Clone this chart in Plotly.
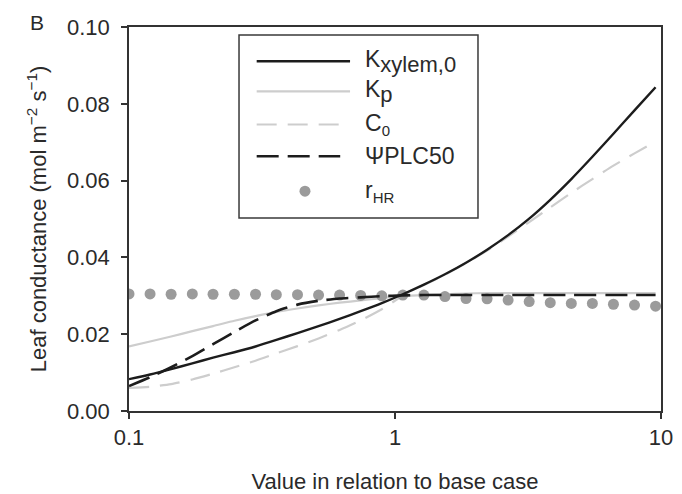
import plotly.graph_objects as go

# Relative parameter value (each step is a factor of 1.2 from 0.1)
rel_value = [0.1, 0.12, 0.144, 0.173, 0.207, 0.249, 0.299, 0.358, 0.43, 0.516,
             0.619, 0.743, 0.892, 1.07, 1.284, 1.541, 1.849, 2.219, 2.662, 3.195,
             3.834, 4.601, 5.521, 6.625, 7.95, 9.54]

# Leaf conductance (mol m-2 s-1) for each varied parameter
k_xylem0 = [0.0083, 0.0095, 0.0109, 0.0124, 0.0139, 0.0153, 0.0168, 0.0185, 0.0203, 0.0221,
            0.0240, 0.0260, 0.0281, 0.0304, 0.0329, 0.0356, 0.0386, 0.0420, 0.0458, 0.0501,
            0.0550, 0.0604, 0.0662, 0.0722, 0.0783, 0.0843]
k_p = [0.0168, 0.0181, 0.0194, 0.0208, 0.0221, 0.0235, 0.0247, 0.0258, 0.0267, 0.0275,
       0.0282, 0.0288, 0.0294, 0.0299, 0.0302, 0.0304, 0.0306, 0.0307, 0.0307, 0.0307,
       0.0307, 0.0307, 0.0307, 0.0307, 0.0307, 0.0307]
c_0 = [0.0060, 0.0063, 0.0070, 0.0082, 0.0097, 0.0114, 0.0131, 0.0150, 0.0169, 0.0189,
       0.0211, 0.0236, 0.0265, 0.0300, 0.0328, 0.0355, 0.0385, 0.0418, 0.0454, 0.0492,
       0.0530, 0.0568, 0.0604, 0.0639, 0.0671, 0.0702]
psi_plc50 = [0.0065, 0.0088, 0.0114, 0.0143, 0.0174, 0.0206, 0.0236, 0.0260, 0.0277, 0.0287,
             0.0293, 0.0296, 0.0299, 0.0301, 0.0302, 0.0302, 0.0302, 0.0302, 0.0302, 0.0302,
             0.0302, 0.0302, 0.0302, 0.0302, 0.0302, 0.0302]
r_hr = [0.0305, 0.0305, 0.0304, 0.0305, 0.0304, 0.0304, 0.0304, 0.0303, 0.0303, 0.0302,
        0.0302, 0.0301, 0.0300, 0.0302, 0.0302, 0.0298, 0.0293, 0.0292, 0.0289, 0.0285,
        0.0282, 0.0280, 0.0280, 0.0278, 0.0276, 0.0273]

y_ticks = [0.0, 0.02, 0.04, 0.06, 0.08, 0.10]
x_ticks = [0.1, 1, 10]
x_tick_text = ["0.1", "1", "10"]

FONT = "Liberation Sans, Arial, sans-serif"
INK = "#2a2a2a"
BLACK = "#1c1c1c"
LIGHT = "#cdcdcd"
DOT = "#9b9b9b"
FS = 22
LEG_FS = 23

fig = go.Figure()

smooth = dict(shape="spline", smoothing=0.6)
fig.add_trace(go.Scatter(x=rel_value, y=k_p, mode="lines",
                         line=dict(color=LIGHT, width=2.2, **smooth)))
fig.add_trace(go.Scatter(x=rel_value, y=c_0, mode="lines",
                         line=dict(color=LIGHT, width=2.2, dash="20px,11px", **smooth)))
fig.add_trace(go.Scatter(x=rel_value, y=r_hr, mode="markers",
                         marker=dict(color=DOT, size=11, line=dict(width=0))))
fig.add_trace(go.Scatter(x=rel_value, y=psi_plc50, mode="lines",
                         line=dict(color=BLACK, width=2.6, dash="22px,9px", **smooth)))
fig.add_trace(go.Scatter(x=rel_value, y=k_xylem0, mode="lines",
                         line=dict(color=BLACK, width=2.4, **smooth)))

# Hand-built legend box (paper coordinates)
box = dict(x0=0.2068, x1=0.656, y0=0.5026, y1=0.979)
fig.add_shape(type="rect", xref="paper", yref="paper", **box,
              line=dict(color="#3a3a3a", width=1.5), fillcolor="white", layer="above")


def sub(txt, size):
    return "<sub><span style='font-size:%dpx'>%s</span></sub>" % (size, txt)


rows = [0.9108, 0.8326, 0.7461, 0.6636, 0.5724]
sample_x0, sample_x1 = 0.2400, 0.4155
legend_items = [
    ("K" + sub("xylem,0", 22), dict(color=BLACK, width=2.4, dash="solid")),
    ("K" + sub("p", 22), dict(color=LIGHT, width=2.2, dash="solid")),
    ("C" + sub("0", 15), dict(color=LIGHT, width=2.2, dash="20px,11px")),
    ("\u03a8PLC50", dict(color=BLACK, width=2.6, dash="22px,9px")),
    ("r" + sub("HR", 15), None),
]
for (label, style), ry in zip(legend_items, rows):
    if style is not None:
        x1 = sample_x1 if style["dash"] == "solid" else 0.397
        fig.add_shape(type="line", xref="paper", yref="paper",
                      x0=sample_x0, x1=x1, y0=ry, y1=ry, line=style, layer="above")
    else:
        fig.add_shape(type="circle", xref="paper", yref="paper",
                      xsizemode="pixel", ysizemode="pixel",
                      xanchor=0.3308, yanchor=ry, x0=-5.5, x1=5.5, y0=-5.5, y1=5.5,
                      fillcolor=DOT, line=dict(width=0), layer="above")
    fig.add_annotation(x=0.4398, y=ry, xref="paper", yref="paper",
                       text=label, showarrow=False, xanchor="left", yanchor="middle",
                       font=dict(family=FONT, size=LEG_FS, color=INK))

# Panel letter
fig.add_annotation(x=-0.173, y=1.012, xref="paper", yref="paper", text="B",
                   showarrow=False, xanchor="center", yanchor="middle",
                   font=dict(family=FONT, size=21, color=INK))

fig.update_layout(
    width=682, height=494,
    margin=dict(l=129, r=21, t=27, b=83, autoexpand=False),
    paper_bgcolor="white", plot_bgcolor="white",
    showlegend=False,
    font=dict(family=FONT, size=FS, color=INK),
)
fig.update_xaxes(
    type="log", range=[-1, 1], automargin=False,
    tickvals=x_ticks, ticktext=x_tick_text,
    ticks="outside", ticklen=6, tickwidth=1.5, tickcolor="#333",
    showline=True, linecolor="#333", linewidth=1.5, mirror=True,
    showgrid=False, zeroline=False,
    title=dict(text="Value in relation to base case", standoff=28,
               font=dict(family=FONT, size=FS, color=INK)),
)
fig.update_yaxes(
    range=[0, 0.1], tickvals=y_ticks, tickformat=".2f", automargin=False,
    ticks="outside", ticklen=6, tickwidth=1.5, tickcolor="#333",
    ticklabelstandoff=7,
    showline=True, linecolor="#333", linewidth=1.5, mirror=True,
    showgrid=False, zeroline=False,
    title=dict(text="Leaf conductance (mol m<sup>\u22122</sup> s<sup>\u22121</sup>)",
               standoff=14, font=dict(family=FONT, size=FS, color=INK)),
)

fig.write_html("out.html")
